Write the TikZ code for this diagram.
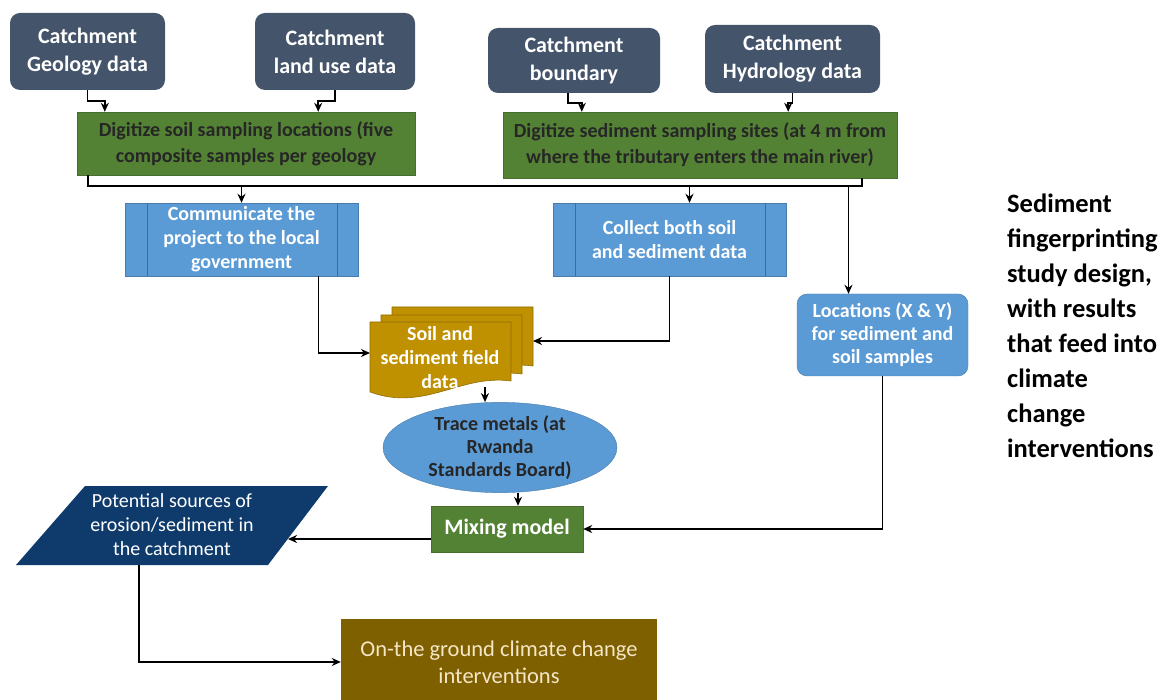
\documentclass[tikz,border=0pt]{standalone}
\usepackage{fontspec}
\setmainfont{Carlito}
\usetikzlibrary{shapes.geometric, positioning, arrows.meta, calc}
\definecolor{slate}{HTML}{44546A}
\definecolor{leaf}{HTML}{548235}
\definecolor{sky}{HTML}{5B9BD5}
\definecolor{gold}{HTML}{BF9000}
\definecolor{navy}{HTML}{0F3B6C}
\definecolor{umber}{HTML}{7F6000}
\definecolor{cream}{HTML}{F4E6C6}
\tikzset{
  databox/.style={rectangle, rounded corners=10pt, fill=slate, text=white, align=center, inner sep=0pt, font=\bfseries\fontsize{22}{28}\selectfont},
  digibox/.style={rectangle, fill=leaf, draw=leaf!85!black, text=black!85, align=center, inner sep=0pt, font=\bfseries\fontsize{20}{26}\selectfont},
  process/.style={rectangle, fill=sky, draw=sky!80!black, text=white, align=center, inner sep=0pt, font=\bfseries\fontsize{20}{24}\selectfont},
  locbox/.style={rectangle, rounded corners=10pt, fill=sky, draw=sky!80!black, text=white, align=center, inner sep=0pt, font=\bfseries\fontsize{20}{23}\selectfont},
  docpage/.style={fill=gold, draw=gold!75!black, line width=0.6pt},
  arrow/.style={line width=1.6pt, -{Stealth[length=9pt,width=8pt]}},
  wire/.style={line width=1.6pt}
}
\newcommand{\fieldpage}[2]{
    \path[docpage] (#1,#2) -- (#1+141,#2) -- (#1+141,#2+59)
        .. controls (#1+90,#2+52) and (#1+55,#2+90) .. (#1,#2+70) -- cycle;
}

\begin{document}
\begin{tikzpicture}[x=1pt, y=-1pt]
    \useasboundingbox (0,0) rectangle (1167,700);

    % Datos de entrada
    \node[databox, minimum width=155, minimum height=77] (geo) at (87.5,51.5) {Catchment\\Geology data};
    \node[databox, minimum width=160, minimum height=77] (land) at (335,51.5) {Catchment\\land use data};
    \node[databox, minimum width=172, minimum height=65] (bound) at (574,60.5) {Catchment\\boundary};
    \node[databox, minimum width=175, minimum height=68] (hydro) at (792.5,59) {Catchment\\Hydrology data};

    % Digitalizar
    \node[digibox, minimum width=338, minimum height=63] (dsoil) at (246,143.5) {Digitize soil sampling locations (five\\composite samples per geology};
    \node[digibox, minimum width=394, minimum height=66] (dsed) at (700,145) {Digitize sediment sampling sites (at 4 m from\\where the tributary enters the main river)};

    \draw[arrow] (geo.south) -- ++(0,11) -| ($(dsoil.north west)+(28,0)$);
    \draw[arrow] (land.south) -- ++(0,11) -| ($(dsoil.north east)+(-97,0)$);
    \draw[arrow] ($(bound.south)+(-6,0)$) -- ++(0,10) -| ($(dsed.north west)+(79,0)$);
    \draw[arrow] (hydro.south) -- ++(0,10) -| ($(dsed.north east)+(-109,0)$);

    % Procesos
    \node[process, minimum width=233, minimum height=73] (comm) at (241.5,239.5) {Communicate the\\project to the local\\government};
    \node[process, minimum width=233, minimum height=73] (coll) at (669.5,239.5) {Collect both soil\\and sediment data};
    \foreach \n in {comm,coll} {
        \draw[sky!70!black] ($(\n.north west)+(22,0)$) -- ($(\n.south west)+(22,0)$);
        \draw[sky!70!black] ($(\n.north east)+(-21,0)$) -- ($(\n.south east)+(-21,0)$);
    }
    \node[locbox, minimum width=171, minimum height=82] (loc) at (882.5,335) {Locations (X \& Y)\\for sediment and\\soil samples};

    % Linea colectora
    \coordinate (bus) at (0,186);
    \coordinate (collin) at ($(coll.north)+(20,0)$);
    \coordinate (locin) at ($(loc.north)+(-34,0)$);
    \draw[wire] ($(dsoil.south west)+(11,0)$) -- ++(0,11) -| ($(dsed.south east)+(-35,0)$);
    \draw[arrow] (comm.north |- bus) -- (comm.north);
    \draw[arrow] (collin |- bus) -- (collin);
    \draw[arrow] (locin |- bus) -- (locin);

    % Documentos de campo
    \fieldpage{392}{307}
    \fieldpage{381}{315}
    \fieldpage{370}{322}
    \node[text=white, align=center, font=\bfseries\fontsize{20}{24}\selectfont] (doc) at (440,358) {Soil and\\sediment field\\data};
    \coordinate (docL) at (370,353);
    \coordinate (docR) at (533,341);
    \coordinate (docB) at (485,387);
    \coordinate (commout) at ($(comm.south)+(77,0)$);
    \draw[arrow] (commout) |- (docL);
    \draw[arrow] (coll.south) |- (docR);

    % Analisis
    \node[ellipse, fill=sky, draw=sky!80!black, minimum width=234, minimum height=80, inner sep=0pt, align=center, text=black!85, font=\bfseries\fontsize{20}{23}\selectfont] (trace) at (500,447.5) {Trace metals (at\\Rwanda\\Standards Board)};
    \draw[arrow] (docB) -- (docB |- trace.north);
    \node[rectangle, fill=leaf, draw=leaf!85!black, minimum width=152, minimum height=46, text=white, font=\bfseries\fontsize{22}{26}\selectfont] (mix) at (507,529) {Mixing model};
    \draw[arrow] ($(trace.south)+(18,0)$) -- ($(mix.north)+(11,0)$);
    \draw[arrow] (loc.south) |- (mix.east);

    % Resultados
    \fill[navy] (16,565) -- (85,486) -- (328,486) -- (268,565) -- cycle;
    \node[text=white, align=center, font=\fontsize{20}{24}\selectfont] (pot) at (172,525) {Potential sources of\\erosion/sediment in\\the catchment};
    \coordinate (potE) at (288,539);
    \coordinate (potB) at (139,565);
    \draw[arrow] ($(mix.west)+(0,10)$) -- (potE);

    \node[rectangle, fill=umber, minimum width=316, minimum height=86, text=cream, align=center, font=\fontsize{22.5}{27}\selectfont] (act) at (499,662) {On-the ground climate change\\interventions};
    \draw[arrow] (potB) |- (act.west);

    % Titulo lateral
    \node[anchor=north west, align=left, inner sep=0pt, font=\bfseries\fontsize{26.5}{35}\selectfont] (cap) at (1007,194) {Sediment\\fingerprinting\\study design,\\with results\\that feed into\\climate\\change\\interventions};
\end{tikzpicture}
\end{document}
